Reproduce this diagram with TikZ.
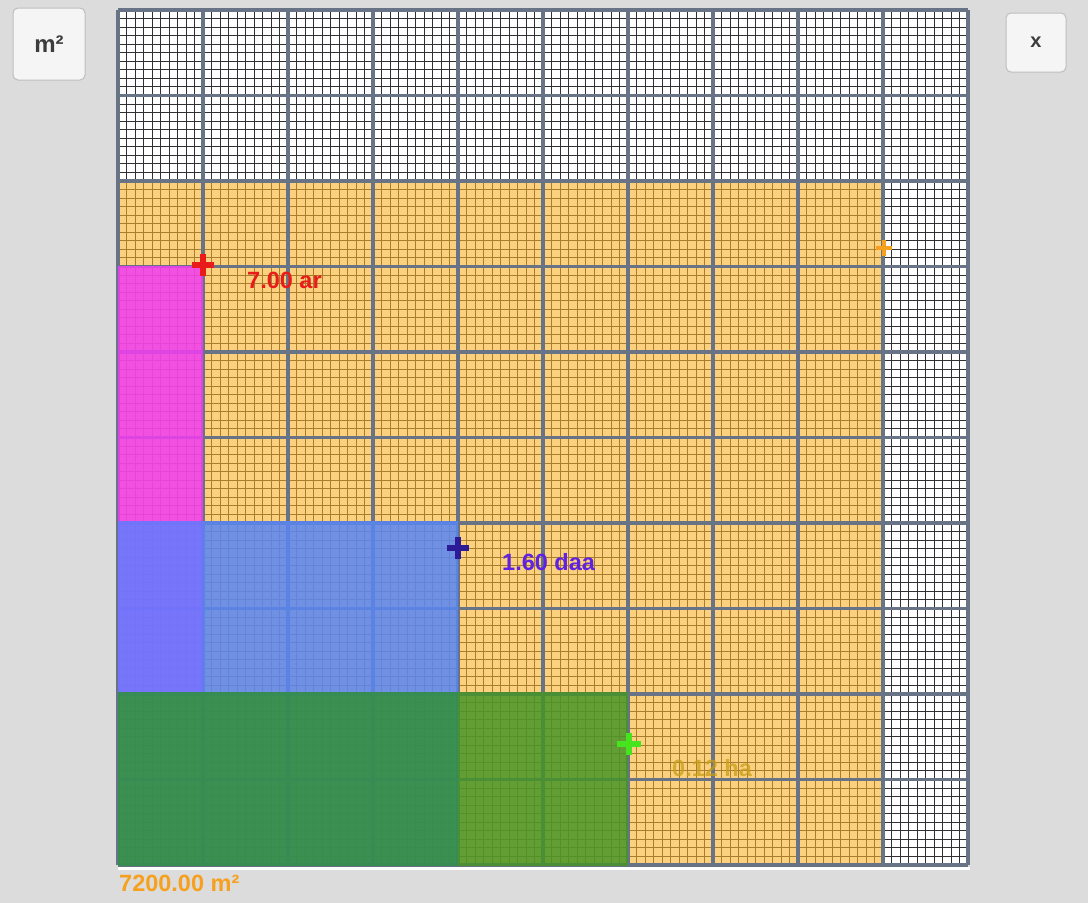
\documentclass[tikz,border=0pt]{standalone}
\usepackage{fontspec}
\setmainfont{Liberation Sans}
\definecolor{bgc}{RGB}{220,220,220}
\definecolor{minorc}{RGB}{48,48,52}
\definecolor{majorc}{RGB}{104,116,134}
\definecolor{orangec}{RGB}{249,178,40}
\definecolor{magc}{RGB}{240,62,240}
\definecolor{violetc}{RGB}{115,115,255}
\definecolor{bluec}{RGB}{90,134,244}
\definecolor{dgreenc}{RGB}{52,142,80}
\definecolor{lgreenc}{RGB}{68,148,38}
\definecolor{redc}{RGB}{232,28,26}
\definecolor{indigoc}{RGB}{44,26,150}
\definecolor{daac}{RGB}{96,34,226}
\definecolor{brightg}{RGB}{70,228,30}
\definecolor{hac}{RGB}{200,158,24}
\definecolor{totc}{RGB}{246,160,30}
\definecolor{btnfill}{RGB}{245,245,245}
\definecolor{btnline}{RGB}{190,190,190}
\definecolor{btntext}{RGB}{60,60,60}
\tikzset{
  minorline/.style={draw=minorc, line width=1.0pt},
  majorline/.style={draw=majorc, line width=3.2pt},
  plusmark/.style={line width=6pt},
  lbl/.style={inner sep=0pt, anchor=west, font=\fontsize{23.5}{23.5}\selectfont\bfseries},
  btn/.style={draw=btnline, fill=btnfill, rounded corners=5pt, line width=1pt, text=btntext, font=\bfseries}
}
\begin{document}
\begin{tikzpicture}[x=1pt,y=-1pt]
\useasboundingbox (0,0) rectangle (1088,903);
\fill[bgc] (0,0) rectangle (1088,903);
% grid area
\fill[white] (118,10) rectangle (968,865);
\foreach \i in {1,...,99} {
  \draw[minorline] ({118+8.5*\i},10) -- ({118+8.5*\i},865);
  \draw[minorline] (118,{10+8.55*\i}) -- (968,{10+8.55*\i});
}
% orange area
\fill[orangec, opacity=0.6] (118,181) rectangle (883,865);
% major lines
\foreach \i in {0,...,10} {
  \draw[majorline] ({118+85*\i},10) -- ({118+85*\i},865);
  \draw[majorline] (118,{10+85.5*\i}) -- (968,{10+85.5*\i});
}
% overlays
\fill[magc, opacity=0.87] (118,266) rectangle (203,521);
\fill[violetc, opacity=0.97] (118,521) rectangle (203,692);
\fill[bluec, opacity=0.86] (203,521) rectangle (458,692);
\fill[dgreenc, opacity=0.96] (118,692) rectangle (458,866);
\fill[lgreenc, opacity=0.83] (458,692) rectangle (628,866);
% white baseline
\draw[white, line width=3pt] (118,868.5) -- (970,868.5);
% markers
\draw[plusmark, redc] (192,265) -- (214,265) (203,254) -- (203,276);
\draw[plusmark, line width=4.5pt, totc] (876,248) -- (892,248) (884,240) -- (884,256);
\draw[plusmark, indigoc] (447,548) -- (469,548) (458,537) -- (458,559);
\draw[plusmark, brightg] (617,744) -- (641,744) (629,733) -- (629,755);
% labels
\node[lbl, text=redc] (arlbl) at (247,280) {7.00 ar};
\node[lbl, text=daac] (daalbl) at (502,562) {1.60 daa};
\node[lbl, text=hac, text opacity=0.75] (halbl) at (672,768) {0.12 ha};
\node[lbl, text=totc] (totlbl) at (119,883) {7200.00 m²};
% buttons
\node[btn, minimum width=72pt, minimum height=72pt, font=\fontsize{24}{24}\selectfont\bfseries] (unitbtn) at (49,44) {m²};
\node[btn, minimum width=60pt, minimum height=59pt, font=\fontsize{20}{20}\selectfont\bfseries] (closebtn) at (1036,42.5) {x};
\end{tikzpicture}
\end{document}
